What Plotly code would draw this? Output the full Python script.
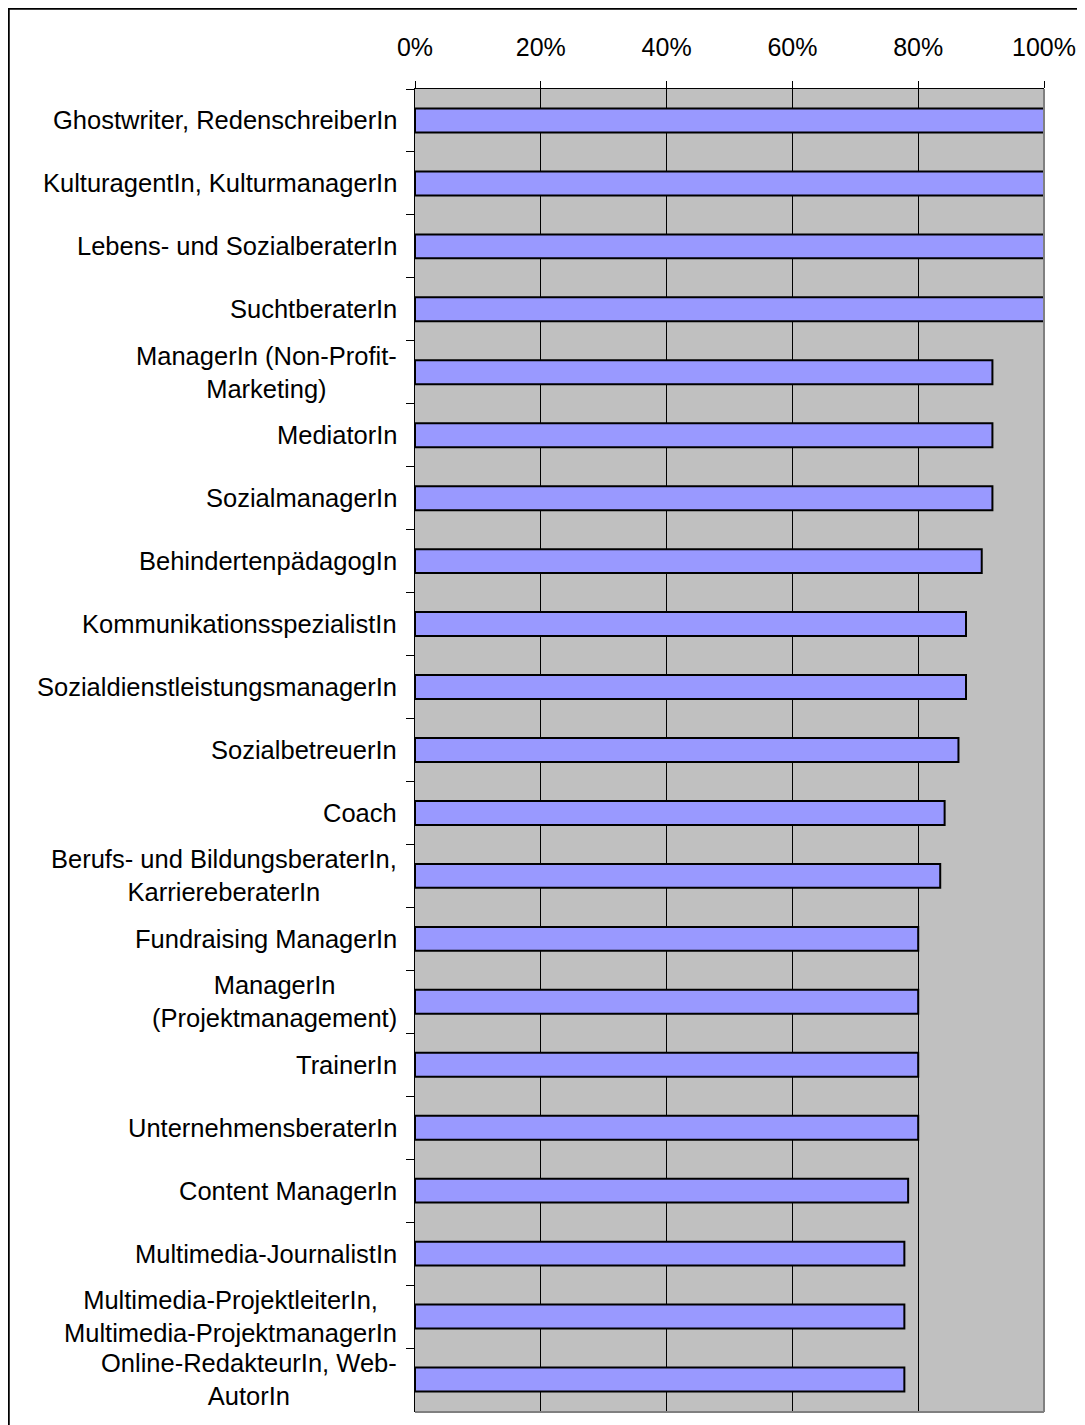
import plotly.graph_objects as go

# categories top to bottom, shares as fractions
categories = [
    "Ghostwriter, RedenschreiberIn",
    "KulturagentIn, KulturmanagerIn",
    "Lebens- und SozialberaterIn",
    "SuchtberaterIn",
    "ManagerIn (Non-Profit-<br>Marketing)",
    "MediatorIn",
    "SozialmanagerIn",
    "BehindertenpädagogIn",
    "KommunikationsspezialistIn",
    "SozialdienstleistungsmanagerIn",
    "SozialbetreuerIn",
    "Coach",
    "Berufs- und BildungsberaterIn,<br>KarriereberaterIn",
    "Fundraising ManagerIn",
    "ManagerIn<br>(Projektmanagement)",
    "TrainerIn",
    "UnternehmensberaterIn",
    "Content ManagerIn",
    "Multimedia-JournalistIn",
    "Multimedia-ProjektleiterIn,<br>Multimedia-ProjektmanagerIn",
    "Online-RedakteurIn, Web-<br>AutorIn",
]
shares = [1.0, 1.0, 1.0, 1.0, 0.918, 0.918, 0.918, 0.901, 0.876, 0.876,
          0.864, 0.842, 0.835, 0.80, 0.80, 0.80, 0.80, 0.784, 0.778, 0.778, 0.778]
x_ticks = [0, 0.2, 0.4, 0.6, 0.8, 1.0]

# page body adds 8px offset, margins compensate
W, H = 1085, 1425
L, R, T, B = 407, 49, 81, 21
FONT = "Liberation Sans, Arial, sans-serif"

fig = go.Figure(
    go.Bar(
        x=shares,
        y=categories,
        orientation="h",
        marker=dict(color="#9999FF", line=dict(color="black", width=2)),
        hoverinfo="skip",
    )
)

# labels as annotations so wrapped lines are centred on each other
for c in categories:
    fig.add_annotation(
        x=0, xref="paper", y=c, yref="y",
        text=c, showarrow=False,
        xanchor="right", yanchor="middle", align="center",
        xshift=-16,
        font=dict(family=FONT, size=25.5, color="black"),
    )

pw, ph = W - L - R, H - T - B
# outer frame (top and left edges visible)
fig.add_shape(
    type="rect", xref="paper", yref="paper",
    x0=(0.5 - L) / pw, x1=(W + 40 - L) / pw,
    y0=-(60) / ph, y1=1 + (T - 0.5) / ph,
    line=dict(color="black", width=2.5), layer="above",
)
# gray right/bottom border of plot area
fig.add_shape(type="line", xref="paper", yref="paper", x0=1, x1=1, y0=0, y1=1,
              line=dict(color="#808080", width=2), layer="above")
fig.add_shape(type="line", xref="paper", yref="paper", x0=0, x1=1, y0=0, y1=0,
              line=dict(color="#808080", width=2), layer="above")

fig.update_layout(
    width=W, height=H,
    margin=dict(l=L, r=R, t=T, b=B, pad=0),
    paper_bgcolor="white",
    plot_bgcolor="#C0C0C0",
    bargap=0.62,
    showlegend=False,
    font=dict(family=FONT, size=25, color="black"),
)
fig.update_xaxes(
    side="top", range=[0, 1], tickvals=x_ticks, tickformat=".0%",
    ticks="outside", ticklen=7, tickcolor="black", tickwidth=1,
    showgrid=True, gridcolor="black", gridwidth=1,
    showline=True, linecolor="black", linewidth=1,
    zeroline=False, ticklabelstandoff=15,
    tickfont=dict(family=FONT, size=25, color="black"),
)
fig.update_yaxes(
    autorange="reversed", showticklabels=False,
    tickson="boundaries", ticks="outside", ticklen=8, tickcolor="black",
    showgrid=False, showline=True, linecolor="black", linewidth=1,
)

fig.write_html("out.html")
